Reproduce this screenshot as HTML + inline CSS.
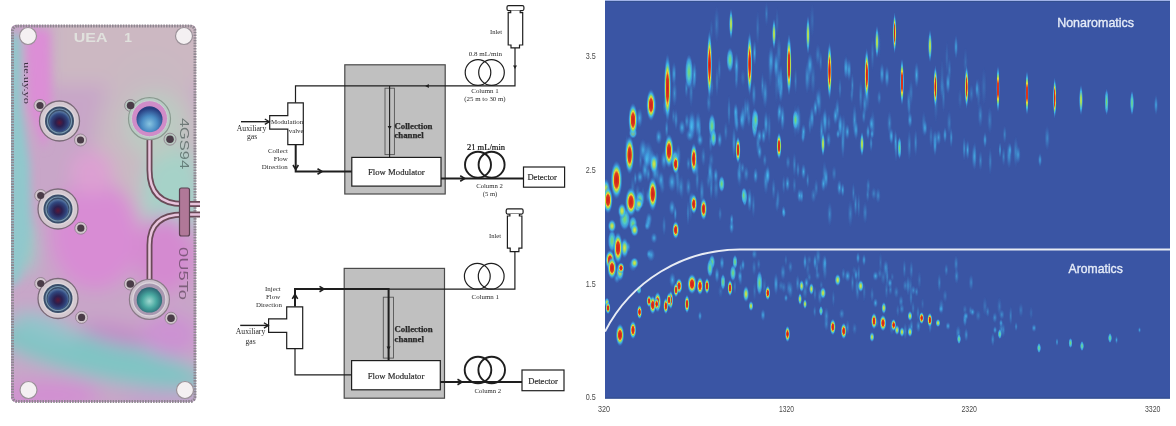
<!DOCTYPE html>
<html><head><meta charset="utf-8">
<style>
html,body{margin:0;padding:0;background:#fff;width:1176px;height:426px;overflow:hidden;}
body{position:relative;font-family:"Liberation Sans",sans-serif;}
svg{position:absolute;left:0;top:0;will-change:transform;}
</style></head><body>
<svg width="215" height="426" viewBox="0 0 215 426" style="position:absolute;left:0;top:0;filter:brightness(1.0)">
<defs>
<clipPath id="pc"><rect x="11" y="25" width="185" height="377" rx="5"/></clipPath>
<filter id="bl" x="-50%" y="-50%" width="200%" height="200%"><feGaussianBlur stdDeviation="9"/></filter>
<filter id="bl3" x="-50%" y="-50%" width="200%" height="200%"><feGaussianBlur stdDeviation="4"/></filter>
<filter id="bl2" x="-50%" y="-50%" width="200%" height="200%"><feGaussianBlur stdDeviation="1"/></filter>
<radialGradient id="bossg" cx="0.45" cy="0.45" r="0.6"><stop offset="0" stop-color="#e8e0e4"/><stop offset="0.7" stop-color="#d4cdd0"/><stop offset="1" stop-color="#a89ca8"/></radialGradient>
<radialGradient id="navy" cx="0.5" cy="0.55" r="0.55"><stop offset="0" stop-color="#5a1838"/><stop offset="0.35" stop-color="#2a2050"/><stop offset="0.75" stop-color="#304880"/><stop offset="1" stop-color="#6080a8"/></radialGradient>
<radialGradient id="blueg" cx="0.5" cy="0.68" r="0.6"><stop offset="0" stop-color="#88c4e0"/><stop offset="0.5" stop-color="#4a8cc4"/><stop offset="1" stop-color="#283c80"/></radialGradient>
<radialGradient id="tealg" cx="0.5" cy="0.55" r="0.55"><stop offset="0" stop-color="#a0d8d0"/><stop offset="0.5" stop-color="#48a8a0"/><stop offset="1" stop-color="#2a6070"/></radialGradient>
</defs>
<g clip-path="url(#pc)">
<rect x="0" y="0" width="215" height="426" fill="#c4a4c6"/>
<g filter="url(#bl)">
<rect x="0" y="0" width="215" height="426" fill="#c8a6c8"/>
<rect x="50" y="0" width="165" height="85" fill="#ccb8c2"/>
<ellipse cx="150" cy="150" rx="55" ry="95" fill="#c9b9c2"/>
<ellipse cx="172" cy="195" rx="30" ry="52" fill="#a6d2c8"/>
<ellipse cx="155" cy="125" rx="32" ry="34" fill="#bccac2"/>
<ellipse cx="95" cy="235" rx="45" ry="55" fill="#d88cd4"/>
<ellipse cx="92" cy="172" rx="22" ry="22" fill="#dca0d2"/>
<ellipse cx="24" cy="248" rx="10" ry="26" fill="#8cd0c4"/>
<ellipse cx="165" cy="255" rx="30" ry="40" fill="#d48ad0"/>
<ellipse cx="100" cy="358" rx="110" ry="21" fill="#80c4c4" transform="rotate(13 100 358)"/>
<ellipse cx="45" cy="328" rx="35" ry="12" fill="#90c4ca" transform="rotate(20 45 328)"/>
<ellipse cx="120" cy="335" rx="40" ry="9" fill="#c488c8" transform="rotate(12 120 335)"/>
<ellipse cx="170" cy="335" rx="28" ry="22" fill="#cc92d2"/>
<ellipse cx="50" cy="395" rx="50" ry="14" fill="#d28ed2"/>
<ellipse cx="160" cy="400" rx="40" ry="10" fill="#c4a0cc"/>
</g>
<g filter="url(#bl3)">
<polygon points="8,35 21,35 22,110 30,165 31,230 20,280 8,290" fill="#90c8cc"/>
<polygon points="26,30 50,30 52,110 44,150 28,105" fill="#dc8ed6"/>
</g>
</g>
<rect x="12.5" y="26" width="182.5" height="375.5" rx="5" fill="none" stroke="#8e8690" stroke-width="3" stroke-dasharray="1.6 1.1"/>
<!-- mounting holes -->
<g>
<circle cx="28" cy="36" r="8.5" fill="#f4f0f2" stroke="#9a9098" stroke-width="1.2"/>
<circle cx="184" cy="36" r="8.5" fill="#f4f0f2" stroke="#9a9098" stroke-width="1.2"/>
<circle cx="28.5" cy="390" r="8.5" fill="#f4f0f2" stroke="#9a9098" stroke-width="1.2"/>
<circle cx="185" cy="390" r="8.5" fill="#f4f0f2" stroke="#9a9098" stroke-width="1.2"/>
</g>
<!-- tubes -->
<g fill="none" stroke-linecap="butt">
<path d="M149.5,135 V170 Q149.5,204 183,204 H200" stroke="#6a4a58" stroke-width="6"/>
<path d="M149.5,135 V170 Q149.5,204 183,204 H200" stroke="#e8c4dc" stroke-width="2.5"/>
<path d="M200,214.5 H183 Q149.5,214.5 149.5,245 V282" stroke="#6a4a58" stroke-width="6"/>
<path d="M200,214.5 H183 Q149.5,214.5 149.5,245 V282" stroke="#e8c4dc" stroke-width="2.5"/>
</g>
<rect x="179.5" y="188" width="10" height="48" rx="2" fill="#b07898" stroke="#5a4050" stroke-width="1.2"/>
<circle cx="40" cy="105.5" r="6" fill="#d0c4cc" stroke="#8a7a88" stroke-width="0.8"/>
<circle cx="80.5" cy="140" r="6" fill="#d0c4cc" stroke="#8a7a88" stroke-width="0.8"/>
<circle cx="59.5" cy="121" r="20" fill="#d4c8d0" stroke="#7a6a78" stroke-width="1.3"/>
<circle cx="40" cy="105.5" r="3.6" fill="#4a3c48"/>
<circle cx="80.5" cy="140" r="3.6" fill="#4a3c48"/>
<circle cx="59.5" cy="121" r="16" fill="#dcd6da"/>
<circle cx="59.5" cy="121" r="14.5" fill="#3a4e6a"/>
<circle cx="59.5" cy="121" r="12" fill="none" stroke="#7898b0" stroke-width="1.2"/>
<circle cx="59.5" cy="121.5" r="10.5" fill="url(#navy)"/>
<circle cx="40.7" cy="195.5" r="6" fill="#d0c4cc" stroke="#8a7a88" stroke-width="0.8"/>
<circle cx="80.8" cy="228.2" r="6" fill="#d0c4cc" stroke="#8a7a88" stroke-width="0.8"/>
<circle cx="58" cy="209" r="20" fill="#d4c8d0" stroke="#7a6a78" stroke-width="1.3"/>
<circle cx="40.7" cy="195.5" r="3.6" fill="#4a3c48"/>
<circle cx="80.8" cy="228.2" r="3.6" fill="#4a3c48"/>
<circle cx="58" cy="209" r="16" fill="#dcd6da"/>
<circle cx="58" cy="209" r="14.5" fill="#3a4e6a"/>
<circle cx="58" cy="209" r="12" fill="none" stroke="#7898b0" stroke-width="1.2"/>
<circle cx="58" cy="209.5" r="10.5" fill="url(#navy)"/>
<circle cx="40.7" cy="283.5" r="6" fill="#d0c4cc" stroke="#8a7a88" stroke-width="0.8"/>
<circle cx="81.6" cy="317.4" r="6" fill="#d0c4cc" stroke="#8a7a88" stroke-width="0.8"/>
<circle cx="58" cy="298.5" r="20" fill="#d4c8d0" stroke="#7a6a78" stroke-width="1.3"/>
<circle cx="40.7" cy="283.5" r="3.6" fill="#4a3c48"/>
<circle cx="81.6" cy="317.4" r="3.6" fill="#4a3c48"/>
<circle cx="58" cy="298.5" r="16" fill="#dcd6da"/>
<circle cx="58" cy="298.5" r="14.5" fill="#3a4e6a"/>
<circle cx="58" cy="298.5" r="12" fill="none" stroke="#7898b0" stroke-width="1.2"/>
<circle cx="58" cy="299.0" r="10.5" fill="url(#navy)"/>
<circle cx="130.6" cy="105.5" r="6" fill="#b8c8c0" stroke="#8a7a88" stroke-width="0.8"/>
<circle cx="170" cy="139.2" r="6" fill="#b8c8c0" stroke="#8a7a88" stroke-width="0.8"/>
<circle cx="149.5" cy="118.7" r="21" fill="#b8ccc4" stroke="#8a9a90" stroke-width="1.2"/>
<circle cx="130.6" cy="105.5" r="3.8" fill="#4a3c48"/>
<circle cx="170" cy="139.2" r="3.8" fill="#4a3c48"/>
<circle cx="149.5" cy="118.7" r="18" fill="#d08cc8" stroke="#c8d0d0" stroke-width="1"/>
<circle cx="149.5" cy="119.2" r="13" fill="url(#blueg)"/>
<circle cx="130.3" cy="284" r="6" fill="#d0c4cc" stroke="#8a7a88" stroke-width="0.8"/>
<circle cx="171" cy="318.2" r="6" fill="#d0c4cc" stroke="#8a7a88" stroke-width="0.8"/>
<circle cx="149.4" cy="299.4" r="20" fill="#ccc0cc" stroke="#8a7a88" stroke-width="1.2"/>
<circle cx="130.3" cy="284" r="3.8" fill="#4a3c48"/>
<circle cx="171" cy="318.2" r="3.8" fill="#4a3c48"/>
<circle cx="149.4" cy="299.4" r="16.5" fill="#a898b0" stroke="#dcd4dc" stroke-width="1.2"/>
<circle cx="149.4" cy="299.9" r="12.7" fill="url(#tealg)"/>
<!-- engraved text -->
<text x="73.8" y="41.8" font-family="Liberation Sans" font-weight="bold" font-size="12.5" fill="#e6ece4" opacity="0.8" textLength="33.6" lengthAdjust="spacingAndGlyphs">UEA</text>
<text x="124.3" y="41.8" font-family="Liberation Sans" font-weight="bold" font-size="12.5" fill="#e6ece4" opacity="0.8" textLength="7.7" lengthAdjust="spacingAndGlyphs">1</text>
<text transform="translate(24,62) rotate(90)" font-family="Liberation Serif" font-size="9" fill="#3a3040" textLength="42" lengthAdjust="spacingAndGlyphs">ue.uy.yo</text>
<text transform="translate(180,118) rotate(90)" font-family="Liberation Sans" font-weight="normal" font-size="12" fill="#2e3e3c" opacity="0.55" textLength="51" lengthAdjust="spacingAndGlyphs">4GS94</text>
<text transform="translate(178.5,247) rotate(90)" font-family="Liberation Sans" font-weight="normal" font-size="12" fill="#3e2e3c" opacity="0.55" textLength="53" lengthAdjust="spacingAndGlyphs">0U5To</text>
</svg>

<svg id="chart" width="565" height="399" viewBox="0 -1 565 399" style="position:absolute;left:605px;top:0px">
<defs>
<filter id="sb" x="-5%" y="-5%" width="110%" height="110%"><feGaussianBlur stdDeviation="0.7"/></filter>
<radialGradient id="gr"><stop offset="0" stop-color="#c81e1e"/><stop offset="0.36" stop-color="#e03a1e"/><stop offset="0.5" stop-color="#e8d83c"/><stop offset="0.58" stop-color="#90dc60"/><stop offset="0.7" stop-color="#40c0f0" stop-opacity="0.9"/><stop offset="1" stop-color="#3a70c8" stop-opacity="0"/></radialGradient>
<radialGradient id="gy"><stop offset="0" stop-color="#e8e040"/><stop offset="0.3" stop-color="#a0dc60"/><stop offset="0.6" stop-color="#40c0f0" stop-opacity="0.85"/><stop offset="1" stop-color="#3a70c8" stop-opacity="0"/></radialGradient>
<radialGradient id="gg"><stop offset="0" stop-color="#80d860"/><stop offset="0.4" stop-color="#50c8c8"/><stop offset="0.7" stop-color="#40b0f0" stop-opacity="0.7"/><stop offset="1" stop-color="#3a70c8" stop-opacity="0"/></radialGradient>
<radialGradient id="gc"><stop offset="0" stop-color="#48c0f0" stop-opacity="0.85"/><stop offset="0.5" stop-color="#40a0e0" stop-opacity="0.45"/><stop offset="1" stop-color="#3a70c8" stop-opacity="0"/></radialGradient>
</defs>
<rect y="-1" width="565" height="398.6" fill="#3a55a4"/>
<g filter="url(#sb)"><ellipse cx="157.5" cy="84.8" rx="1.9" ry="14.2" fill="url(#gc)" opacity="0.66"/>
<ellipse cx="175.9" cy="75.1" rx="1.8" ry="12.9" fill="url(#gc)" opacity="0.62"/>
<ellipse cx="69.5" cy="92.4" rx="2.9" ry="14.0" fill="url(#gc)" opacity="0.68"/>
<ellipse cx="35.5" cy="159.1" rx="2.0" ry="10.8" fill="url(#gc)" opacity="0.50"/>
<ellipse cx="94.5" cy="130.1" rx="2.2" ry="14.1" fill="url(#gc)" opacity="0.67"/>
<ellipse cx="105.6" cy="140.4" rx="2.2" ry="12.1" fill="url(#gc)" opacity="0.68"/>
<ellipse cx="214.4" cy="100.5" rx="2.6" ry="15.6" fill="url(#gc)" opacity="0.55"/>
<ellipse cx="267.7" cy="124.1" rx="2.7" ry="16.4" fill="url(#gc)" opacity="0.57"/>
<ellipse cx="81.9" cy="120.3" rx="2.6" ry="8.4" fill="url(#gc)" opacity="0.76"/>
<ellipse cx="153.0" cy="142.0" rx="2.5" ry="13.7" fill="url(#gc)" opacity="0.63"/>
<ellipse cx="223.6" cy="138.7" rx="2.6" ry="8.6" fill="url(#gc)" opacity="0.71"/>
<ellipse cx="140.2" cy="109.5" rx="1.8" ry="14.4" fill="url(#gc)" opacity="0.63"/>
<ellipse cx="88.9" cy="81.3" rx="2.7" ry="8.6" fill="url(#gc)" opacity="0.50"/>
<ellipse cx="124.0" cy="110.0" rx="1.9" ry="16.4" fill="url(#gc)" opacity="0.63"/>
<ellipse cx="375.5" cy="159.7" rx="2.3" ry="10.7" fill="url(#gc)" opacity="0.59"/>
<ellipse cx="81.4" cy="87.5" rx="2.1" ry="10.2" fill="url(#gc)" opacity="0.64"/>
<ellipse cx="274.2" cy="96.6" rx="2.3" ry="8.0" fill="url(#gc)" opacity="0.60"/>
<ellipse cx="318.8" cy="123.1" rx="2.6" ry="13.9" fill="url(#gc)" opacity="0.47"/>
<ellipse cx="410.8" cy="150.9" rx="2.8" ry="16.4" fill="url(#gc)" opacity="0.61"/>
<ellipse cx="190.6" cy="79.9" rx="1.9" ry="14.1" fill="url(#gc)" opacity="0.48"/>
<ellipse cx="106.9" cy="86.0" rx="1.9" ry="11.3" fill="url(#gc)" opacity="0.45"/>
<ellipse cx="399.7" cy="133.5" rx="2.1" ry="9.4" fill="url(#gc)" opacity="0.59"/>
<ellipse cx="175.2" cy="81.9" rx="3.0" ry="16.1" fill="url(#gc)" opacity="0.64"/>
<ellipse cx="60.0" cy="105.0" rx="2.8" ry="10.5" fill="url(#gc)" opacity="0.51"/>
<ellipse cx="247.4" cy="84.4" rx="1.8" ry="13.2" fill="url(#gc)" opacity="0.66"/>
<ellipse cx="176.3" cy="86.5" rx="2.4" ry="15.4" fill="url(#gc)" opacity="0.76"/>
<ellipse cx="160.1" cy="92.4" rx="3.0" ry="15.8" fill="url(#gc)" opacity="0.79"/>
<ellipse cx="369.7" cy="154.9" rx="2.1" ry="15.1" fill="url(#gc)" opacity="0.66"/>
<ellipse cx="129.0" cy="141.7" rx="2.3" ry="17.2" fill="url(#gc)" opacity="0.82"/>
<ellipse cx="175.4" cy="92.1" rx="2.0" ry="10.2" fill="url(#gc)" opacity="0.53"/>
<ellipse cx="384.8" cy="119.3" rx="2.8" ry="14.3" fill="url(#gc)" opacity="0.48"/>
<ellipse cx="359.2" cy="147.8" rx="2.0" ry="12.6" fill="url(#gc)" opacity="0.77"/>
<ellipse cx="413.1" cy="153.7" rx="2.8" ry="9.4" fill="url(#gc)" opacity="0.84"/>
<ellipse cx="304.2" cy="105.8" rx="2.0" ry="13.3" fill="url(#gc)" opacity="0.46"/>
<ellipse cx="442.2" cy="137.2" rx="2.9" ry="13.1" fill="url(#gc)" opacity="0.62"/>
<ellipse cx="398.6" cy="155.7" rx="2.1" ry="10.0" fill="url(#gc)" opacity="0.57"/>
<ellipse cx="120.8" cy="130.6" rx="2.3" ry="10.5" fill="url(#gc)" opacity="0.50"/>
<ellipse cx="216.6" cy="130.3" rx="2.3" ry="16.7" fill="url(#gc)" opacity="0.82"/>
<ellipse cx="235.7" cy="124.8" rx="1.8" ry="13.0" fill="url(#gc)" opacity="0.63"/>
<ellipse cx="259.8" cy="103.2" rx="2.5" ry="13.0" fill="url(#gc)" opacity="0.76"/>
<ellipse cx="61.7" cy="127.8" rx="2.1" ry="10.4" fill="url(#gc)" opacity="0.76"/>
<ellipse cx="238.4" cy="128.0" rx="2.9" ry="15.3" fill="url(#gc)" opacity="0.63"/>
<ellipse cx="284.5" cy="122.1" rx="2.6" ry="12.9" fill="url(#gc)" opacity="0.63"/>
<ellipse cx="249.6" cy="119.2" rx="2.6" ry="17.0" fill="url(#gc)" opacity="0.80"/>
<ellipse cx="68.5" cy="115.4" rx="2.1" ry="8.7" fill="url(#gc)" opacity="0.48"/>
<ellipse cx="330.1" cy="138.3" rx="2.9" ry="9.4" fill="url(#gc)" opacity="0.84"/>
<ellipse cx="190.2" cy="120.2" rx="2.8" ry="17.5" fill="url(#gc)" opacity="0.51"/>
<ellipse cx="204.9" cy="123.1" rx="2.0" ry="11.3" fill="url(#gc)" opacity="0.58"/>
<ellipse cx="258.8" cy="115.2" rx="2.2" ry="8.2" fill="url(#gc)" opacity="0.70"/>
<ellipse cx="131.8" cy="73.2" rx="2.1" ry="15.5" fill="url(#gc)" opacity="0.50"/>
<ellipse cx="266.1" cy="142.5" rx="1.9" ry="8.9" fill="url(#gc)" opacity="0.73"/>
<ellipse cx="202.1" cy="76.6" rx="2.6" ry="17.0" fill="url(#gc)" opacity="0.77"/>
<ellipse cx="51.8" cy="158.9" rx="2.8" ry="8.6" fill="url(#gc)" opacity="0.63"/>
<ellipse cx="164.2" cy="127.1" rx="2.1" ry="16.9" fill="url(#gc)" opacity="0.50"/>
<ellipse cx="246.8" cy="94.0" rx="2.0" ry="9.1" fill="url(#gc)" opacity="0.47"/>
<ellipse cx="103.8" cy="101.8" rx="2.7" ry="10.9" fill="url(#gc)" opacity="0.57"/>
<ellipse cx="235.0" cy="87.7" rx="1.8" ry="11.3" fill="url(#gc)" opacity="0.55"/>
<ellipse cx="21.8" cy="146.0" rx="2.0" ry="13.3" fill="url(#gc)" opacity="0.64"/>
<ellipse cx="375.3" cy="114.4" rx="2.8" ry="12.8" fill="url(#gc)" opacity="0.61"/>
<ellipse cx="237.9" cy="141.2" rx="2.2" ry="17.4" fill="url(#gc)" opacity="0.78"/>
<ellipse cx="326.0" cy="135.8" rx="2.2" ry="11.9" fill="url(#gc)" opacity="0.47"/>
<ellipse cx="385.2" cy="160.4" rx="2.1" ry="14.4" fill="url(#gc)" opacity="0.55"/>
<ellipse cx="143.9" cy="117.2" rx="2.3" ry="9.5" fill="url(#gc)" opacity="0.56"/>
<ellipse cx="255.7" cy="94.7" rx="2.2" ry="17.3" fill="url(#gc)" opacity="0.59"/>
<ellipse cx="223.8" cy="121.8" rx="2.4" ry="9.9" fill="url(#gc)" opacity="0.45"/>
<ellipse cx="131.2" cy="78.4" rx="1.9" ry="11.8" fill="url(#gc)" opacity="0.46"/>
<ellipse cx="148.9" cy="93.4" rx="2.4" ry="13.6" fill="url(#gc)" opacity="0.75"/>
<ellipse cx="304.3" cy="144.2" rx="2.3" ry="16.4" fill="url(#gc)" opacity="0.58"/>
<ellipse cx="333.6" cy="136.5" rx="2.8" ry="8.4" fill="url(#gc)" opacity="0.81"/>
<ellipse cx="291.0" cy="146.1" rx="2.0" ry="15.8" fill="url(#gc)" opacity="0.66"/>
<ellipse cx="369.1" cy="155.8" rx="2.9" ry="13.6" fill="url(#gc)" opacity="0.72"/>
<ellipse cx="173.7" cy="80.0" rx="2.5" ry="16.0" fill="url(#gc)" opacity="0.70"/>
<ellipse cx="290.5" cy="140.5" rx="1.8" ry="12.7" fill="url(#gc)" opacity="0.77"/>
<ellipse cx="344.2" cy="121.8" rx="2.6" ry="13.1" fill="url(#gc)" opacity="0.48"/>
<ellipse cx="232.3" cy="109.2" rx="2.6" ry="12.6" fill="url(#gc)" opacity="0.76"/>
<ellipse cx="286.5" cy="136.5" rx="2.0" ry="8.7" fill="url(#gc)" opacity="0.55"/>
<ellipse cx="310.7" cy="141.7" rx="2.1" ry="14.5" fill="url(#gc)" opacity="0.66"/>
<ellipse cx="219.5" cy="118.0" rx="2.9" ry="9.1" fill="url(#gc)" opacity="0.53"/>
<ellipse cx="212.8" cy="97.2" rx="2.9" ry="10.0" fill="url(#gc)" opacity="0.53"/>
<ellipse cx="73.3" cy="155.1" rx="2.9" ry="12.9" fill="url(#gc)" opacity="0.73"/>
<ellipse cx="213.3" cy="100.7" rx="2.2" ry="9.4" fill="url(#gc)" opacity="0.58"/>
<ellipse cx="142.5" cy="108.1" rx="3.0" ry="11.8" fill="url(#gc)" opacity="0.69"/>
<ellipse cx="173.7" cy="113.9" rx="1.9" ry="10.6" fill="url(#gc)" opacity="0.49"/>
<ellipse cx="131.9" cy="122.7" rx="2.2" ry="9.8" fill="url(#gc)" opacity="0.83"/>
<ellipse cx="404.1" cy="154.3" rx="2.9" ry="14.1" fill="url(#gc)" opacity="0.83"/>
<ellipse cx="256.7" cy="144.6" rx="2.7" ry="8.5" fill="url(#gc)" opacity="0.63"/>
<ellipse cx="346.2" cy="136.7" rx="1.9" ry="10.7" fill="url(#gc)" opacity="0.82"/>
<ellipse cx="71.0" cy="118.6" rx="2.2" ry="11.3" fill="url(#gc)" opacity="0.75"/>
<ellipse cx="303.6" cy="100.6" rx="2.3" ry="13.4" fill="url(#gc)" opacity="0.52"/>
<ellipse cx="86.1" cy="90.8" rx="2.4" ry="16.7" fill="url(#gc)" opacity="0.54"/>
<ellipse cx="134.7" cy="165.2" rx="1.9" ry="7.9" fill="url(#gc)" opacity="0.52"/>
<ellipse cx="43.2" cy="173.1" rx="2.5" ry="8.5" fill="url(#gc)" opacity="0.71"/>
<ellipse cx="211.2" cy="187.0" rx="2.4" ry="9.7" fill="url(#gc)" opacity="0.53"/>
<ellipse cx="106.2" cy="159.0" rx="3.0" ry="8.6" fill="url(#gc)" opacity="0.44"/>
<ellipse cx="148.4" cy="204.4" rx="2.1" ry="13.3" fill="url(#gc)" opacity="0.49"/>
<ellipse cx="83.4" cy="186.0" rx="2.9" ry="10.0" fill="url(#gc)" opacity="0.70"/>
<ellipse cx="248.4" cy="191.9" rx="1.8" ry="11.1" fill="url(#gc)" opacity="0.54"/>
<ellipse cx="83.4" cy="162.7" rx="2.4" ry="7.6" fill="url(#gc)" opacity="0.64"/>
<ellipse cx="260.1" cy="211.7" rx="2.7" ry="11.6" fill="url(#gc)" opacity="0.56"/>
<ellipse cx="219.5" cy="172.6" rx="2.6" ry="13.8" fill="url(#gc)" opacity="0.51"/>
<ellipse cx="52.6" cy="174.1" rx="2.6" ry="11.5" fill="url(#gc)" opacity="0.44"/>
<ellipse cx="37.9" cy="196.0" rx="2.3" ry="11.1" fill="url(#gc)" opacity="0.48"/>
<ellipse cx="96.9" cy="190.9" rx="2.6" ry="14.1" fill="url(#gc)" opacity="0.71"/>
<ellipse cx="141.2" cy="172.8" rx="3.0" ry="8.4" fill="url(#gc)" opacity="0.65"/>
<ellipse cx="98.4" cy="155.7" rx="2.6" ry="10.4" fill="url(#gc)" opacity="0.55"/>
<ellipse cx="85.6" cy="207.4" rx="2.1" ry="13.8" fill="url(#gc)" opacity="0.41"/>
<ellipse cx="106.2" cy="187.6" rx="2.0" ry="11.9" fill="url(#gc)" opacity="0.68"/>
<ellipse cx="208.5" cy="194.4" rx="3.0" ry="8.0" fill="url(#gc)" opacity="0.51"/>
<ellipse cx="229.1" cy="172.5" rx="2.7" ry="8.2" fill="url(#gc)" opacity="0.50"/>
<ellipse cx="262.7" cy="193.7" rx="2.1" ry="7.9" fill="url(#gc)" opacity="0.55"/>
<ellipse cx="57.3" cy="185.5" rx="3.0" ry="8.1" fill="url(#gc)" opacity="0.45"/>
<ellipse cx="245.3" cy="212.6" rx="2.9" ry="14.4" fill="url(#gc)" opacity="0.52"/>
<ellipse cx="189.4" cy="184.3" rx="2.2" ry="9.4" fill="url(#gc)" opacity="0.46"/>
<ellipse cx="72.9" cy="182.5" rx="2.8" ry="13.0" fill="url(#gc)" opacity="0.55"/>
<ellipse cx="32.6" cy="191.9" rx="2.9" ry="9.4" fill="url(#gc)" opacity="0.47"/>
<ellipse cx="27.7" cy="186.9" rx="2.7" ry="12.9" fill="url(#gc)" opacity="0.41"/>
<ellipse cx="106.5" cy="175.8" rx="2.5" ry="14.1" fill="url(#gc)" opacity="0.49"/>
<ellipse cx="202.7" cy="179.3" rx="1.8" ry="8.6" fill="url(#gc)" opacity="0.66"/>
<ellipse cx="253.7" cy="204.7" rx="1.8" ry="13.9" fill="url(#gc)" opacity="0.48"/>
<ellipse cx="263.2" cy="184.9" rx="2.3" ry="8.4" fill="url(#gc)" opacity="0.57"/>
<ellipse cx="224.7" cy="213.1" rx="2.7" ry="13.0" fill="url(#gc)" opacity="0.61"/>
<ellipse cx="103.6" cy="179.6" rx="2.7" ry="9.3" fill="url(#gc)" opacity="0.43"/>
<ellipse cx="70.3" cy="214.2" rx="1.9" ry="8.4" fill="url(#gc)" opacity="0.41"/>
<ellipse cx="160.9" cy="180.1" rx="2.9" ry="14.2" fill="url(#gc)" opacity="0.75"/>
<ellipse cx="87.5" cy="160.7" rx="2.4" ry="7.2" fill="url(#gc)" opacity="0.65"/>
<ellipse cx="134.0" cy="172.7" rx="2.5" ry="9.7" fill="url(#gc)" opacity="0.64"/>
<ellipse cx="189.4" cy="163.7" rx="2.2" ry="13.1" fill="url(#gc)" opacity="0.60"/>
<ellipse cx="115.1" cy="213.0" rx="2.1" ry="8.0" fill="url(#gc)" opacity="0.49"/>
<ellipse cx="59.1" cy="224.7" rx="2.2" ry="11.0" fill="url(#gc)" opacity="0.54"/>
<ellipse cx="273.1" cy="194.6" rx="2.8" ry="8.3" fill="url(#gc)" opacity="0.63"/>
<ellipse cx="30.3" cy="177.5" rx="2.0" ry="7.4" fill="url(#gc)" opacity="0.74"/>
<ellipse cx="134.5" cy="174.8" rx="2.9" ry="12.6" fill="url(#gc)" opacity="0.44"/>
<ellipse cx="172.0" cy="203.6" rx="2.2" ry="8.1" fill="url(#gc)" opacity="0.45"/>
<ellipse cx="72.0" cy="174.4" rx="2.6" ry="11.2" fill="url(#gc)" opacity="0.47"/>
<ellipse cx="193.0" cy="168.8" rx="2.0" ry="8.9" fill="url(#gc)" opacity="0.68"/>
<ellipse cx="159.8" cy="159.1" rx="2.3" ry="7.2" fill="url(#gc)" opacity="0.59"/>
<ellipse cx="183.0" cy="161.3" rx="2.6" ry="7.7" fill="url(#gc)" opacity="0.54"/>
<ellipse cx="92.2" cy="178.6" rx="2.2" ry="14.0" fill="url(#gc)" opacity="0.60"/>
<ellipse cx="111.1" cy="187.3" rx="3.0" ry="13.3" fill="url(#gc)" opacity="0.53"/>
<ellipse cx="70.3" cy="212.2" rx="1.8" ry="8.0" fill="url(#gc)" opacity="0.72"/>
<ellipse cx="137.5" cy="167.0" rx="2.5" ry="6.5" fill="url(#gc)" opacity="0.62"/>
<ellipse cx="178.7" cy="183.7" rx="2.0" ry="10.4" fill="url(#gc)" opacity="0.50"/>
<ellipse cx="47.7" cy="193.2" rx="3.0" ry="12.8" fill="url(#gc)" opacity="0.47"/>
<ellipse cx="268.8" cy="192.6" rx="2.9" ry="6.8" fill="url(#gc)" opacity="0.54"/>
<ellipse cx="250.6" cy="203.6" rx="2.0" ry="13.0" fill="url(#gc)" opacity="0.68"/>
<ellipse cx="76.6" cy="186.4" rx="2.8" ry="13.2" fill="url(#gc)" opacity="0.46"/>
<ellipse cx="75.6" cy="186.0" rx="2.3" ry="10.5" fill="url(#gc)" opacity="0.44"/>
<ellipse cx="83.0" cy="212.0" rx="1.8" ry="13.6" fill="url(#gc)" opacity="0.60"/>
<ellipse cx="172.9" cy="198.0" rx="2.2" ry="11.4" fill="url(#gc)" opacity="0.55"/>
<ellipse cx="168.6" cy="188.1" rx="2.3" ry="11.7" fill="url(#gc)" opacity="0.55"/>
<ellipse cx="281.0" cy="269.3" rx="2.7" ry="9.7" fill="url(#gc)" opacity="0.44"/>
<ellipse cx="163.2" cy="287.9" rx="2.0" ry="5.5" fill="url(#gc)" opacity="0.43"/>
<ellipse cx="129.9" cy="285.5" rx="1.8" ry="8.1" fill="url(#gc)" opacity="0.49"/>
<ellipse cx="115.6" cy="290.3" rx="2.9" ry="7.2" fill="url(#gc)" opacity="0.34"/>
<ellipse cx="373.2" cy="314.6" rx="3.0" ry="6.0" fill="url(#gc)" opacity="0.45"/>
<ellipse cx="149.6" cy="290.2" rx="2.0" ry="10.7" fill="url(#gc)" opacity="0.38"/>
<ellipse cx="287.3" cy="275.9" rx="2.0" ry="5.0" fill="url(#gc)" opacity="0.35"/>
<ellipse cx="306.0" cy="296.2" rx="1.9" ry="10.4" fill="url(#gc)" opacity="0.60"/>
<ellipse cx="334.3" cy="281.8" rx="2.1" ry="9.9" fill="url(#gc)" opacity="0.60"/>
<ellipse cx="314.4" cy="279.1" rx="2.3" ry="9.7" fill="url(#gc)" opacity="0.35"/>
<ellipse cx="317.6" cy="302.8" rx="1.8" ry="6.8" fill="url(#gc)" opacity="0.31"/>
<ellipse cx="259.2" cy="291.0" rx="2.0" ry="10.5" fill="url(#gc)" opacity="0.37"/>
<ellipse cx="135.4" cy="278.9" rx="2.5" ry="6.2" fill="url(#gc)" opacity="0.48"/>
<ellipse cx="275.5" cy="261.5" rx="2.1" ry="10.8" fill="url(#gc)" opacity="0.34"/>
<ellipse cx="426.1" cy="312.0" rx="2.1" ry="7.4" fill="url(#gc)" opacity="0.30"/>
<ellipse cx="340.1" cy="294.9" rx="2.6" ry="7.0" fill="url(#gc)" opacity="0.43"/>
<ellipse cx="249.3" cy="269.5" rx="2.7" ry="5.2" fill="url(#gc)" opacity="0.30"/>
<ellipse cx="149.1" cy="266.6" rx="2.4" ry="8.7" fill="url(#gc)" opacity="0.49"/>
<ellipse cx="212.6" cy="274.4" rx="2.9" ry="5.1" fill="url(#gc)" opacity="0.53"/>
<ellipse cx="415.9" cy="309.1" rx="2.7" ry="7.8" fill="url(#gc)" opacity="0.44"/>
<ellipse cx="180.9" cy="259.2" rx="1.8" ry="6.3" fill="url(#gc)" opacity="0.40"/>
<ellipse cx="379.9" cy="305.2" rx="2.7" ry="10.2" fill="url(#gc)" opacity="0.38"/>
<ellipse cx="305.4" cy="285.0" rx="2.4" ry="9.8" fill="url(#gc)" opacity="0.38"/>
<ellipse cx="219.9" cy="269.7" rx="2.6" ry="10.6" fill="url(#gc)" opacity="0.51"/>
<ellipse cx="360.1" cy="317.9" rx="2.7" ry="7.6" fill="url(#gc)" opacity="0.47"/>
<ellipse cx="211.9" cy="267.5" rx="1.9" ry="8.8" fill="url(#gc)" opacity="0.57"/>
<ellipse cx="149.9" cy="253.1" rx="2.9" ry="5.5" fill="url(#gc)" opacity="0.40"/>
<ellipse cx="148.9" cy="253.2" rx="2.6" ry="5.1" fill="url(#gc)" opacity="0.49"/>
<ellipse cx="359.9" cy="308.5" rx="2.5" ry="5.2" fill="url(#gc)" opacity="0.41"/>
<ellipse cx="405.7" cy="314.9" rx="1.9" ry="10.5" fill="url(#gc)" opacity="0.56"/>
<ellipse cx="135.7" cy="267.0" rx="1.8" ry="5.5" fill="url(#gc)" opacity="0.55"/>
<ellipse cx="204.2" cy="258.8" rx="2.7" ry="5.4" fill="url(#gc)" opacity="0.36"/>
<ellipse cx="216.3" cy="284.1" rx="2.1" ry="4.9" fill="url(#gc)" opacity="0.38"/>
<ellipse cx="251.9" cy="285.0" rx="2.2" ry="9.7" fill="url(#gc)" opacity="0.51"/>
<ellipse cx="299.4" cy="267.9" rx="1.9" ry="10.3" fill="url(#gc)" opacity="0.55"/>
<ellipse cx="281.5" cy="289.3" rx="2.0" ry="9.9" fill="url(#gc)" opacity="0.45"/>
<ellipse cx="202.8" cy="267.7" rx="2.4" ry="9.3" fill="url(#gc)" opacity="0.33"/>
<ellipse cx="394.4" cy="305.4" rx="2.6" ry="9.8" fill="url(#gc)" opacity="0.41"/>
<ellipse cx="247.5" cy="281.8" rx="1.9" ry="10.5" fill="url(#gc)" opacity="0.57"/>
<ellipse cx="104.6" cy="267.1" rx="2.9" ry="6.5" fill="url(#gc)" opacity="0.45"/>
<ellipse cx="183.8" cy="287.0" rx="2.7" ry="8.2" fill="url(#gc)" opacity="0.53"/>
<ellipse cx="219.1" cy="263.1" rx="2.6" ry="10.2" fill="url(#gc)" opacity="0.52"/>
<ellipse cx="159.4" cy="285.2" rx="2.5" ry="9.7" fill="url(#gc)" opacity="0.34"/>
<ellipse cx="185.4" cy="265.9" rx="2.6" ry="6.7" fill="url(#gc)" opacity="0.55"/>
<ellipse cx="153.7" cy="263.2" rx="2.2" ry="6.4" fill="url(#gc)" opacity="0.46"/>
<ellipse cx="236.8" cy="312.8" rx="3.0" ry="5.7" fill="url(#gc)" opacity="0.66"/>
<ellipse cx="221.4" cy="315.1" rx="2.8" ry="9.5" fill="url(#gc)" opacity="0.66"/>
<ellipse cx="308.1" cy="307.2" rx="1.9" ry="7.9" fill="url(#gc)" opacity="0.47"/>
<ellipse cx="296.0" cy="300.4" rx="2.7" ry="6.7" fill="url(#gc)" opacity="0.64"/>
<ellipse cx="325.1" cy="325.6" rx="2.0" ry="7.0" fill="url(#gc)" opacity="0.61"/>
<ellipse cx="300.2" cy="330.1" rx="2.3" ry="9.2" fill="url(#gc)" opacity="0.60"/>
<ellipse cx="389.8" cy="316.7" rx="2.7" ry="5.9" fill="url(#gc)" opacity="0.71"/>
<ellipse cx="396.3" cy="328.4" rx="2.6" ry="8.9" fill="url(#gc)" opacity="0.62"/>
<ellipse cx="313.0" cy="312.1" rx="1.9" ry="7.8" fill="url(#gc)" opacity="0.55"/>
<ellipse cx="398.4" cy="329.0" rx="2.1" ry="7.8" fill="url(#gc)" opacity="0.55"/>
<ellipse cx="313.4" cy="325.1" rx="2.6" ry="6.8" fill="url(#gc)" opacity="0.73"/>
<ellipse cx="242.6" cy="326.5" rx="2.3" ry="8.5" fill="url(#gc)" opacity="0.57"/>
<ellipse cx="336.3" cy="305.8" rx="2.9" ry="8.6" fill="url(#gc)" opacity="0.58"/>
<ellipse cx="221.3" cy="323.1" rx="2.7" ry="7.4" fill="url(#gc)" opacity="0.58"/>
<ellipse cx="361.2" cy="333.8" rx="2.3" ry="7.3" fill="url(#gc)" opacity="0.73"/>
<ellipse cx="249.6" cy="327.7" rx="2.7" ry="6.7" fill="url(#gc)" opacity="0.44"/>
<ellipse cx="209.7" cy="310.5" rx="1.8" ry="6.7" fill="url(#gc)" opacity="0.55"/>
<ellipse cx="304.3" cy="328.3" rx="2.1" ry="6.5" fill="url(#gc)" opacity="0.48"/>
<ellipse cx="387.8" cy="338.5" rx="2.1" ry="7.3" fill="url(#gc)" opacity="0.68"/>
<ellipse cx="296.9" cy="307.9" rx="2.7" ry="5.4" fill="url(#gc)" opacity="0.68"/>
<ellipse cx="359.9" cy="318.7" rx="2.1" ry="7.5" fill="url(#gc)" opacity="0.74"/>
<ellipse cx="286.8" cy="325.8" rx="2.8" ry="8.7" fill="url(#gc)" opacity="0.56"/>
<ellipse cx="271.5" cy="322.0" rx="2.8" ry="5.4" fill="url(#gc)" opacity="0.52"/>
<ellipse cx="292.8" cy="309.6" rx="2.0" ry="6.8" fill="url(#gc)" opacity="0.40"/>
<ellipse cx="382.7" cy="310.8" rx="2.2" ry="6.0" fill="url(#gc)" opacity="0.57"/>
<ellipse cx="306.4" cy="325.8" rx="2.2" ry="8.0" fill="url(#gc)" opacity="0.73"/>
<ellipse cx="411.1" cy="325.6" rx="1.8" ry="4.9" fill="url(#gc)" opacity="0.73"/>
<ellipse cx="365.5" cy="309.5" rx="2.0" ry="5.3" fill="url(#gc)" opacity="0.48"/>
<ellipse cx="396.8" cy="313.6" rx="2.9" ry="5.5" fill="url(#gc)" opacity="0.68"/>
<ellipse cx="353.2" cy="331.8" rx="2.9" ry="8.0" fill="url(#gc)" opacity="0.68"/>
<ellipse cx="351.1" cy="262.9" rx="2.4" ry="9.2" fill="url(#gc)" opacity="0.62"/>
<ellipse cx="267.1" cy="293.7" rx="2.1" ry="8.4" fill="url(#gc)" opacity="0.47"/>
<ellipse cx="204.3" cy="276.2" rx="2.4" ry="5.2" fill="url(#gc)" opacity="0.44"/>
<ellipse cx="278.2" cy="276.4" rx="2.8" ry="8.3" fill="url(#gc)" opacity="0.40"/>
<ellipse cx="351.6" cy="275.1" rx="2.6" ry="8.4" fill="url(#gc)" opacity="0.65"/>
<ellipse cx="253.7" cy="272.8" rx="1.9" ry="10.9" fill="url(#gc)" opacity="0.59"/>
<ellipse cx="303.0" cy="284.7" rx="2.2" ry="10.8" fill="url(#gc)" opacity="0.69"/>
<ellipse cx="282.2" cy="275.8" rx="1.8" ry="10.5" fill="url(#gc)" opacity="0.62"/>
<ellipse cx="306.3" cy="269.2" rx="2.2" ry="10.3" fill="url(#gc)" opacity="0.54"/>
<ellipse cx="285.4" cy="288.7" rx="2.3" ry="6.1" fill="url(#gc)" opacity="0.53"/>
<ellipse cx="291.3" cy="291.2" rx="2.8" ry="6.7" fill="url(#gc)" opacity="0.52"/>
<ellipse cx="280.8" cy="266.2" rx="3.0" ry="8.0" fill="url(#gc)" opacity="0.60"/>
<ellipse cx="341.3" cy="268.9" rx="2.2" ry="6.8" fill="url(#gc)" opacity="0.58"/>
<ellipse cx="308.3" cy="289.3" rx="2.7" ry="5.1" fill="url(#gc)" opacity="0.67"/>
<ellipse cx="214.9" cy="295.5" rx="2.6" ry="8.7" fill="url(#gc)" opacity="0.64"/>
<ellipse cx="366.1" cy="281.5" rx="2.6" ry="8.7" fill="url(#gc)" opacity="0.61"/>
<ellipse cx="300.2" cy="284.6" rx="2.6" ry="6.2" fill="url(#gc)" opacity="0.54"/>
<ellipse cx="213.1" cy="255.7" rx="2.9" ry="9.8" fill="url(#gc)" opacity="0.60"/>
<ellipse cx="252.5" cy="291.0" rx="2.5" ry="9.8" fill="url(#gc)" opacity="0.48"/>
<ellipse cx="238.4" cy="273.0" rx="2.3" ry="6.8" fill="url(#gc)" opacity="0.59"/>
<ellipse cx="200.0" cy="290.5" rx="2.9" ry="8.5" fill="url(#gc)" opacity="0.53"/>
<ellipse cx="178.0" cy="271.4" rx="2.9" ry="8.6" fill="url(#gc)" opacity="0.69"/>
<ellipse cx="274.8" cy="272.6" rx="2.6" ry="5.5" fill="url(#gc)" opacity="0.46"/>
<ellipse cx="176.0" cy="284.8" rx="3.0" ry="5.6" fill="url(#gc)" opacity="0.43"/>
<ellipse cx="178.7" cy="286.4" rx="2.7" ry="6.4" fill="url(#gc)" opacity="0.46"/>
<ellipse cx="185.5" cy="288.8" rx="2.8" ry="9.4" fill="url(#gc)" opacity="0.62"/>
<ellipse cx="192.7" cy="282.3" rx="2.4" ry="9.3" fill="url(#gc)" opacity="0.68"/>
<ellipse cx="228.4" cy="297.4" rx="1.8" ry="9.4" fill="url(#gc)" opacity="0.40"/>
<ellipse cx="311.6" cy="290.8" rx="2.2" ry="5.3" fill="url(#gc)" opacity="0.62"/>
<ellipse cx="209.9" cy="292.7" rx="1.9" ry="7.9" fill="url(#gc)" opacity="0.51"/>
<ellipse cx="267.5" cy="52.9" rx="2.0" ry="18.3" fill="url(#gc)" opacity="0.45"/>
<ellipse cx="204.0" cy="73.5" rx="2.3" ry="17.7" fill="url(#gc)" opacity="0.35"/>
<ellipse cx="330.9" cy="103.5" rx="2.5" ry="19.6" fill="url(#gc)" opacity="0.32"/>
<ellipse cx="306.0" cy="91.7" rx="2.5" ry="13.9" fill="url(#gc)" opacity="0.49"/>
<ellipse cx="344.4" cy="69.1" rx="2.3" ry="13.6" fill="url(#gc)" opacity="0.47"/>
<ellipse cx="208.0" cy="77.5" rx="2.9" ry="17.3" fill="url(#gc)" opacity="0.45"/>
<ellipse cx="173.9" cy="51.3" rx="2.8" ry="17.1" fill="url(#gc)" opacity="0.47"/>
<ellipse cx="338.5" cy="95.7" rx="2.1" ry="16.9" fill="url(#gc)" opacity="0.46"/>
<ellipse cx="337.1" cy="77.5" rx="2.2" ry="21.3" fill="url(#gc)" opacity="0.27"/>
<ellipse cx="261.1" cy="88.7" rx="2.7" ry="12.2" fill="url(#gc)" opacity="0.48"/>
<ellipse cx="165.2" cy="69.7" rx="2.4" ry="18.3" fill="url(#gc)" opacity="0.30"/>
<ellipse cx="171.4" cy="84.1" rx="2.4" ry="19.7" fill="url(#gc)" opacity="0.27"/>
<ellipse cx="337.0" cy="86.2" rx="2.5" ry="12.6" fill="url(#gc)" opacity="0.47"/>
<ellipse cx="360.5" cy="61.2" rx="2.5" ry="15.7" fill="url(#gc)" opacity="0.30"/>
<ellipse cx="152.7" cy="27.1" rx="2.2" ry="18.6" fill="url(#gc)" opacity="0.39"/>
<ellipse cx="215.7" cy="60.7" rx="1.9" ry="11.5" fill="url(#gc)" opacity="0.50"/>
<ellipse cx="207.2" cy="19.6" rx="2.7" ry="17.7" fill="url(#gc)" opacity="0.29"/>
<ellipse cx="274.2" cy="43.5" rx="1.8" ry="16.2" fill="url(#gc)" opacity="0.26"/>
<ellipse cx="240.9" cy="65.7" rx="2.7" ry="12.9" fill="url(#gc)" opacity="0.36"/>
<ellipse cx="378.9" cy="85.7" rx="3.0" ry="20.1" fill="url(#gc)" opacity="0.31"/>
<ellipse cx="106.4" cy="29.1" rx="1.9" ry="11.9" fill="url(#gc)" opacity="0.26"/>
<ellipse cx="262.2" cy="96.1" rx="2.9" ry="15.5" fill="url(#gc)" opacity="0.48"/>
<ellipse cx="114.3" cy="68.8" rx="1.9" ry="14.7" fill="url(#gc)" opacity="0.49"/>
<ellipse cx="172.2" cy="65.4" rx="2.9" ry="17.8" fill="url(#gc)" opacity="0.42"/>
<ellipse cx="212.9" cy="53.8" rx="3.0" ry="11.6" fill="url(#gc)" opacity="0.50"/>
<ellipse cx="161.5" cy="12.9" rx="2.2" ry="12.9" fill="url(#gc)" opacity="0.48"/>
<ellipse cx="366.4" cy="92.7" rx="2.7" ry="10.2" fill="url(#gc)" opacity="0.43"/>
<ellipse cx="111.7" cy="23.5" rx="2.9" ry="19.3" fill="url(#gc)" opacity="0.42"/>
<ellipse cx="184.6" cy="68.1" rx="1.9" ry="19.3" fill="url(#gc)" opacity="0.33"/>
<ellipse cx="172.1" cy="21.4" rx="2.0" ry="15.8" fill="url(#gc)" opacity="0.31"/>
<ellipse cx="137.9" cy="76.8" rx="2.7" ry="9.8" fill="url(#gc)" opacity="0.30"/>
<ellipse cx="355.0" cy="97.9" rx="2.3" ry="11.4" fill="url(#gc)" opacity="0.27"/>
<ellipse cx="373.6" cy="93.2" rx="2.3" ry="17.6" fill="url(#gc)" opacity="0.33"/>
<ellipse cx="341.9" cy="56.8" rx="2.0" ry="17.6" fill="url(#gc)" opacity="0.31"/>
<ellipse cx="112.0" cy="80.4" rx="2.0" ry="16.7" fill="url(#gc)" opacity="0.47"/>
<ellipse cx="131.5" cy="65.0" rx="2.6" ry="13.7" fill="url(#gc)"/>
<ellipse cx="149.6" cy="52.0" rx="2.1" ry="13.7" fill="url(#gc)"/>
<ellipse cx="166.0" cy="60.0" rx="3.2" ry="15.8" fill="url(#gc)"/>
<ellipse cx="171.0" cy="65.0" rx="2.6" ry="13.7" fill="url(#gc)"/>
<ellipse cx="89.4" cy="74.0" rx="2.6" ry="13.7" fill="url(#gc)"/>
<ellipse cx="69.0" cy="73.0" rx="2.6" ry="12.6" fill="url(#gc)"/>
<ellipse cx="49.0" cy="104.0" rx="2.8" ry="11.6" fill="url(#gc)"/>
<ellipse cx="34.5" cy="117.0" rx="3.5" ry="10.4" fill="url(#gc)"/>
<ellipse cx="87.0" cy="124.0" rx="4.3" ry="15.0" fill="url(#gc)"/>
<ellipse cx="93.0" cy="124.0" rx="3.5" ry="13.9" fill="url(#gc)"/>
<ellipse cx="131.0" cy="117.0" rx="2.6" ry="13.7" fill="url(#gc)"/>
<ellipse cx="138.0" cy="117.0" rx="2.6" ry="13.7" fill="url(#gc)"/>
<ellipse cx="161.0" cy="123.0" rx="2.6" ry="13.7" fill="url(#gc)"/>
<ellipse cx="177.5" cy="117.0" rx="2.6" ry="13.7" fill="url(#gc)"/>
<ellipse cx="205.0" cy="64.0" rx="3.2" ry="12.6" fill="url(#gc)"/>
<ellipse cx="241.0" cy="67.0" rx="2.6" ry="11.6" fill="url(#gc)"/>
<ellipse cx="244.0" cy="69.0" rx="2.6" ry="11.6" fill="url(#gc)"/>
<ellipse cx="277.0" cy="73.0" rx="2.6" ry="11.6" fill="url(#gc)"/>
<ellipse cx="282.0" cy="76.0" rx="2.6" ry="11.6" fill="url(#gc)"/>
<ellipse cx="311.6" cy="74.0" rx="2.6" ry="13.7" fill="url(#gc)"/>
<ellipse cx="351.0" cy="46.0" rx="2.1" ry="12.6" fill="url(#gc)"/>
<ellipse cx="343.0" cy="82.0" rx="2.6" ry="11.6" fill="url(#gc)"/>
<ellipse cx="372.0" cy="88.0" rx="2.1" ry="10.5" fill="url(#gc)"/>
<ellipse cx="193.0" cy="119.0" rx="3.2" ry="15.8" fill="url(#gc)"/>
<ellipse cx="207.0" cy="117.0" rx="2.6" ry="12.6" fill="url(#gc)"/>
<ellipse cx="220.0" cy="121.0" rx="2.6" ry="14.7" fill="url(#gc)"/>
<ellipse cx="235.0" cy="125.0" rx="2.6" ry="12.6" fill="url(#gc)"/>
<ellipse cx="251.0" cy="129.0" rx="2.6" ry="10.5" fill="url(#gc)"/>
<ellipse cx="263.0" cy="131.0" rx="2.1" ry="8.4" fill="url(#gc)"/>
<ellipse cx="551.0" cy="104.0" rx="2.1" ry="10.5" fill="url(#gc)"/>
<ellipse cx="33.0" cy="201.0" rx="4.3" ry="9.2" fill="url(#gc)"/>
<ellipse cx="44.0" cy="218.0" rx="3.5" ry="6.9" fill="url(#gc)"/>
<ellipse cx="43.0" cy="154.0" rx="5.7" ry="13.9" fill="url(#gc)"/>
<ellipse cx="38.0" cy="149.0" rx="4.3" ry="11.6" fill="url(#gc)"/>
<ellipse cx="67.0" cy="181.0" rx="4.3" ry="10.4" fill="url(#gc)"/>
<ellipse cx="46.0" cy="254.0" rx="4.3" ry="6.9" fill="url(#gc)"/>
<ellipse cx="126.6" cy="226.0" rx="2.6" ry="7.4" fill="url(#gc)"/>
<ellipse cx="144.6" cy="199.0" rx="2.6" ry="12.6" fill="url(#gc)"/>
<ellipse cx="162.7" cy="174.0" rx="2.6" ry="10.5" fill="url(#gc)"/>
<ellipse cx="179.0" cy="212.0" rx="2.1" ry="5.2" fill="url(#gc)"/>
<ellipse cx="154.5" cy="135.0" rx="2.6" ry="7.4" fill="url(#gc)"/>
<ellipse cx="85.0" cy="134.0" rx="4.3" ry="6.9" fill="url(#gc)"/>
<ellipse cx="95.0" cy="139.0" rx="3.5" ry="6.9" fill="url(#gc)"/>
<ellipse cx="117.0" cy="262.0" rx="2.6" ry="7.4" fill="url(#gc)"/>
<ellipse cx="138.0" cy="264.0" rx="2.1" ry="6.3" fill="url(#gc)"/>
<ellipse cx="330.0" cy="145.0" rx="2.1" ry="10.5" fill="url(#gc)"/>
<ellipse cx="362.6" cy="149.0" rx="2.1" ry="10.5" fill="url(#gc)"/>
<ellipse cx="221.0" cy="177.0" rx="2.6" ry="11.6" fill="url(#gc)"/>
<ellipse cx="196.6" cy="195.0" rx="2.1" ry="7.4" fill="url(#gc)"/>
<ellipse cx="237.7" cy="189.0" rx="2.1" ry="7.4" fill="url(#gc)"/>
<ellipse cx="198.0" cy="136.0" rx="2.1" ry="6.3" fill="url(#gc)"/>
<ellipse cx="233.0" cy="133.0" rx="2.1" ry="5.2" fill="url(#gc)"/>
<ellipse cx="267.0" cy="133.0" rx="2.1" ry="5.2" fill="url(#gc)"/>
<ellipse cx="200.0" cy="261.0" rx="2.1" ry="8.4" fill="url(#gc)"/>
<ellipse cx="210.0" cy="261.0" rx="2.1" ry="8.4" fill="url(#gc)"/>
<ellipse cx="220.0" cy="262.0" rx="2.1" ry="8.4" fill="url(#gc)"/>
<ellipse cx="253.0" cy="257.0" rx="2.1" ry="6.3" fill="url(#gc)"/>
<ellipse cx="259.0" cy="259.0" rx="2.1" ry="6.3" fill="url(#gc)"/>
<ellipse cx="395.0" cy="149.0" rx="1.6" ry="8.4" fill="url(#gc)"/>
<ellipse cx="28.0" cy="264.0" rx="4.3" ry="6.9" fill="url(#gc)"/>
<ellipse cx="67.4" cy="279.0" rx="3.5" ry="8.1" fill="url(#gc)"/>
<ellipse cx="95.0" cy="315.0" rx="2.1" ry="5.2" fill="url(#gc)"/>
<ellipse cx="112.0" cy="274.0" rx="2.6" ry="8.4" fill="url(#gc)"/>
<ellipse cx="135.0" cy="275.0" rx="2.6" ry="6.3" fill="url(#gc)"/>
<ellipse cx="158.0" cy="314.0" rx="2.6" ry="6.3" fill="url(#gc)"/>
<ellipse cx="171.0" cy="283.0" rx="2.6" ry="11.6" fill="url(#gc)"/>
<ellipse cx="181.0" cy="297.0" rx="2.1" ry="4.2" fill="url(#gc)"/>
<ellipse cx="343.0" cy="325.0" rx="2.6" ry="4.2" fill="url(#gc)"/>
<ellipse cx="361.0" cy="315.0" rx="2.6" ry="4.2" fill="url(#gc)"/>
<ellipse cx="367.5" cy="311.0" rx="2.6" ry="4.2" fill="url(#gc)"/>
<ellipse cx="336.0" cy="308.0" rx="2.6" ry="4.2" fill="url(#gc)"/>
<ellipse cx="201.5" cy="282.0" rx="2.6" ry="6.3" fill="url(#gc)"/>
<ellipse cx="242.6" cy="275.0" rx="3.2" ry="6.3" fill="url(#gc)"/>
<ellipse cx="270.5" cy="275.0" rx="3.2" ry="5.2" fill="url(#gc)"/>
<ellipse cx="285.0" cy="282.0" rx="2.6" ry="5.2" fill="url(#gc)"/>
<ellipse cx="270.5" cy="302.0" rx="2.6" ry="5.2" fill="url(#gc)"/>
<ellipse cx="251.0" cy="274.0" rx="2.1" ry="6.3" fill="url(#gc)"/>
<ellipse cx="390.0" cy="329.0" rx="2.1" ry="4.2" fill="url(#gc)"/>
<ellipse cx="396.0" cy="322.0" rx="2.1" ry="4.2" fill="url(#gc)"/>
<ellipse cx="429.0" cy="327.0" rx="2.6" ry="4.2" fill="url(#gc)"/>
<ellipse cx="452.0" cy="341.0" rx="1.6" ry="4.2" fill="url(#gc)"/>
<ellipse cx="511.5" cy="339.0" rx="1.6" ry="4.2" fill="url(#gc)"/>
<ellipse cx="534.5" cy="329.0" rx="1.6" ry="3.2" fill="url(#gc)"/>
<ellipse cx="86.8" cy="122.9" rx="3.5" ry="10.4" fill="url(#gc)"/>
<ellipse cx="114.7" cy="138.8" rx="2.6" ry="8.4" fill="url(#gc)"/>
<ellipse cx="130.7" cy="110.9" rx="2.6" ry="9.5" fill="url(#gc)"/>
<ellipse cx="136.7" cy="118.9" rx="2.6" ry="9.5" fill="url(#gc)"/>
<ellipse cx="158.6" cy="134.8" rx="2.6" ry="8.4" fill="url(#gc)"/>
<ellipse cx="174.6" cy="110.9" rx="2.6" ry="9.5" fill="url(#gc)"/>
<ellipse cx="198.5" cy="130.8" rx="2.6" ry="8.4" fill="url(#gc)"/>
<ellipse cx="210.4" cy="106.9" rx="2.6" ry="9.5" fill="url(#gc)"/>
<ellipse cx="230.4" cy="114.9" rx="2.6" ry="9.5" fill="url(#gc)"/>
<ellipse cx="242.3" cy="130.8" rx="2.6" ry="8.4" fill="url(#gc)"/>
<ellipse cx="266.3" cy="122.9" rx="2.6" ry="8.4" fill="url(#gc)"/>
<ellipse cx="286.2" cy="134.8" rx="2.6" ry="8.4" fill="url(#gc)"/>
<ellipse cx="47.0" cy="158.7" rx="4.3" ry="10.4" fill="url(#gc)"/>
<ellipse cx="90.8" cy="166.7" rx="3.5" ry="9.2" fill="url(#gc)"/>
<ellipse cx="110.8" cy="174.7" rx="2.6" ry="8.4" fill="url(#gc)"/>
<ellipse cx="150.6" cy="174.7" rx="2.6" ry="8.4" fill="url(#gc)"/>
<ellipse cx="162.6" cy="174.7" rx="2.6" ry="8.4" fill="url(#gc)"/>
<ellipse cx="182.5" cy="182.7" rx="2.6" ry="8.4" fill="url(#gc)"/>
<ellipse cx="198.5" cy="170.7" rx="2.6" ry="8.4" fill="url(#gc)"/>
<ellipse cx="234.4" cy="186.7" rx="2.6" ry="8.4" fill="url(#gc)"/>
<ellipse cx="178.5" cy="210.6" rx="2.1" ry="6.3" fill="url(#gc)"/>
<ellipse cx="154.6" cy="150.8" rx="2.6" ry="8.4" fill="url(#gc)"/>
<ellipse cx="86.8" cy="198.6" rx="3.5" ry="8.1" fill="url(#gc)"/>
<ellipse cx="126.7" cy="218.6" rx="2.1" ry="6.3" fill="url(#gc)"/>
<ellipse cx="43.0" cy="222.5" rx="3.5" ry="6.9" fill="url(#gc)"/>
<ellipse cx="67.0" cy="206.6" rx="3.5" ry="8.1" fill="url(#gc)"/>
<ellipse cx="194.5" cy="194.6" rx="2.6" ry="7.4" fill="url(#gc)"/>
<ellipse cx="218.4" cy="182.7" rx="2.6" ry="8.4" fill="url(#gc)"/>
<ellipse cx="305.0" cy="119.0" rx="2.6" ry="8.4" fill="url(#gc)"/>
<ellipse cx="320.0" cy="127.0" rx="2.6" ry="8.4" fill="url(#gc)"/>
<ellipse cx="340.0" cy="134.0" rx="2.1" ry="8.4" fill="url(#gc)"/>
<ellipse cx="380.0" cy="139.0" rx="2.1" ry="8.4" fill="url(#gc)"/>
<ellipse cx="405.0" cy="149.0" rx="2.1" ry="7.4" fill="url(#gc)"/>
<ellipse cx="435.0" cy="159.0" rx="2.1" ry="7.4" fill="url(#gc)"/>
<ellipse cx="42.0" cy="157.0" rx="4.3" ry="8.1" fill="url(#gc)"/>
<ellipse cx="40.0" cy="169.0" rx="3.5" ry="10.4" fill="url(#gc)"/>
<ellipse cx="50.0" cy="171.0" rx="3.5" ry="10.4" fill="url(#gc)"/>
<ellipse cx="56.0" cy="179.0" rx="3.5" ry="9.2" fill="url(#gc)"/>
<ellipse cx="86.5" cy="126.0" rx="3.5" ry="10.4" fill="url(#gc)"/>
<ellipse cx="105.0" cy="171.0" rx="2.6" ry="12.6" fill="url(#gc)"/>
<ellipse cx="42.0" cy="225.0" rx="2.8" ry="4.6" fill="url(#gc)"/>
<ellipse cx="44.0" cy="253.0" rx="2.8" ry="4.6" fill="url(#gc)"/>
<ellipse cx="23.0" cy="246.0" rx="2.8" ry="5.8" fill="url(#gc)"/>
<ellipse cx="35.0" cy="176.0" rx="3.5" ry="6.9" fill="url(#gc)"/>
<ellipse cx="53.7" cy="136.0" rx="3.5" ry="8.1" fill="url(#gc)"/>
<ellipse cx="77.0" cy="126.6" rx="3.5" ry="8.1" fill="url(#gc)"/>
<ellipse cx="59.0" cy="159.0" rx="3.5" ry="10.4" fill="url(#gc)"/>
<ellipse cx="41.8" cy="159.0" rx="3.5" ry="10.4" fill="url(#gc)"/>
<ellipse cx="44.0" cy="195.0" rx="3.5" ry="8.1" fill="url(#gc)"/>
<ellipse cx="49.0" cy="237.0" rx="3.5" ry="5.8" fill="url(#gc)"/>
<ellipse cx="12.0" cy="277.0" rx="3.5" ry="5.8" fill="url(#gc)"/>
<ellipse cx="125.0" cy="59.0" rx="3.7" ry="12.6" fill="url(#gg)"/>
<ellipse cx="84.0" cy="71.0" rx="4.2" ry="17.9" fill="url(#gg)"/>
<ellipse cx="107.0" cy="125.0" rx="3.7" ry="12.6" fill="url(#gg)"/>
<ellipse cx="149.6" cy="122.0" rx="3.2" ry="15.8" fill="url(#gg)"/>
<ellipse cx="501.6" cy="101.0" rx="2.1" ry="13.7" fill="url(#gg)"/>
<ellipse cx="527.0" cy="102.0" rx="2.1" ry="12.6" fill="url(#gg)"/>
<ellipse cx="19.7" cy="218.0" rx="5.7" ry="11.6" fill="url(#gg)"/>
<ellipse cx="108.5" cy="137.0" rx="3.2" ry="9.5" fill="url(#gg)"/>
<ellipse cx="116.7" cy="183.0" rx="3.2" ry="8.4" fill="url(#gg)"/>
<ellipse cx="139.7" cy="196.0" rx="2.6" ry="9.5" fill="url(#gg)"/>
<ellipse cx="107.0" cy="261.0" rx="3.2" ry="7.4" fill="url(#gg)"/>
<ellipse cx="130.0" cy="261.0" rx="2.6" ry="7.4" fill="url(#gg)"/>
<ellipse cx="294.5" cy="147.0" rx="2.1" ry="11.6" fill="url(#gg)"/>
<ellipse cx="105.0" cy="267.0" rx="3.2" ry="9.5" fill="url(#gg)"/>
<ellipse cx="118.0" cy="281.0" rx="2.6" ry="8.4" fill="url(#gg)"/>
<ellipse cx="128.0" cy="272.0" rx="3.2" ry="8.4" fill="url(#gg)"/>
<ellipse cx="154.5" cy="282.0" rx="3.2" ry="12.6" fill="url(#gg)"/>
<ellipse cx="354.0" cy="338.0" rx="2.1" ry="5.2" fill="url(#gg)"/>
<ellipse cx="216.0" cy="310.0" rx="2.1" ry="5.2" fill="url(#gg)"/>
<ellipse cx="394.8" cy="333.0" rx="2.1" ry="5.2" fill="url(#gg)"/>
<ellipse cx="434.0" cy="347.0" rx="2.1" ry="5.2" fill="url(#gg)"/>
<ellipse cx="465.5" cy="342.0" rx="2.1" ry="5.2" fill="url(#gg)"/>
<ellipse cx="477.0" cy="345.0" rx="2.1" ry="5.2" fill="url(#gg)"/>
<ellipse cx="505.0" cy="337.0" rx="2.1" ry="5.2" fill="url(#gg)"/>
<ellipse cx="150.6" cy="118.9" rx="3.2" ry="10.5" fill="url(#gg)"/>
<ellipse cx="190.5" cy="118.9" rx="3.2" ry="10.5" fill="url(#gg)"/>
<ellipse cx="138.7" cy="194.6" rx="2.6" ry="8.4" fill="url(#gg)"/>
<ellipse cx="35.0" cy="198.6" rx="4.3" ry="9.2" fill="url(#gg)"/>
<ellipse cx="28.0" cy="223.0" rx="4.3" ry="8.1" fill="url(#gg)"/>
<ellipse cx="7.0" cy="240.0" rx="4.3" ry="11.6" fill="url(#gg)"/>
<ellipse cx="34.0" cy="289.0" rx="2.6" ry="4.2" fill="url(#gg)"/>
<ellipse cx="126.0" cy="23.0" rx="2.1" ry="15.8" fill="url(#gy)"/>
<ellipse cx="169.0" cy="33.0" rx="2.1" ry="15.8" fill="url(#gy)"/>
<ellipse cx="203.0" cy="34.0" rx="2.1" ry="19.9" fill="url(#gy)"/>
<ellipse cx="272.0" cy="41.0" rx="2.1" ry="16.8" fill="url(#gy)"/>
<ellipse cx="325.0" cy="45.0" rx="2.1" ry="16.8" fill="url(#gy)"/>
<ellipse cx="476.0" cy="99.0" rx="2.1" ry="15.8" fill="url(#gy)"/>
<ellipse cx="28.0" cy="132.0" rx="4.3" ry="5.8" fill="url(#gy)"/>
<ellipse cx="29.6" cy="229.0" rx="4.3" ry="6.9" fill="url(#gy)"/>
<ellipse cx="218.0" cy="143.0" rx="2.1" ry="12.6" fill="url(#gy)"/>
<ellipse cx="257.0" cy="143.0" rx="2.1" ry="12.6" fill="url(#gy)"/>
<ellipse cx="15.0" cy="271.0" rx="4.3" ry="9.2" fill="url(#gy)"/>
<ellipse cx="141.0" cy="293.0" rx="3.2" ry="8.4" fill="url(#gy)"/>
<ellipse cx="146.0" cy="305.0" rx="2.6" ry="5.2" fill="url(#gy)"/>
<ellipse cx="267.0" cy="336.0" rx="2.6" ry="5.2" fill="url(#gy)"/>
<ellipse cx="292.0" cy="329.0" rx="2.6" ry="5.2" fill="url(#gy)"/>
<ellipse cx="297.0" cy="331.0" rx="2.6" ry="5.2" fill="url(#gy)"/>
<ellipse cx="305.0" cy="315.0" rx="2.6" ry="5.2" fill="url(#gy)"/>
<ellipse cx="305.0" cy="331.0" rx="2.6" ry="5.2" fill="url(#gy)"/>
<ellipse cx="333.0" cy="322.0" rx="2.6" ry="4.2" fill="url(#gy)"/>
<ellipse cx="196.6" cy="285.0" rx="2.6" ry="6.3" fill="url(#gy)"/>
<ellipse cx="206.4" cy="288.0" rx="2.6" ry="6.3" fill="url(#gy)"/>
<ellipse cx="218.0" cy="292.0" rx="3.2" ry="6.3" fill="url(#gy)"/>
<ellipse cx="232.7" cy="279.0" rx="3.2" ry="6.3" fill="url(#gy)"/>
<ellipse cx="255.7" cy="285.0" rx="3.2" ry="6.3" fill="url(#gy)"/>
<ellipse cx="195.0" cy="298.0" rx="2.1" ry="6.3" fill="url(#gy)"/>
<ellipse cx="200.0" cy="303.0" rx="2.1" ry="5.2" fill="url(#gy)"/>
<ellipse cx="278.8" cy="307.0" rx="2.6" ry="6.3" fill="url(#gy)"/>
<ellipse cx="32.6" cy="204.0" rx="4.3" ry="8.1" fill="url(#gy)"/>
<ellipse cx="70.0" cy="159.0" rx="4.3" ry="10.4" fill="url(#gy)"/>
<ellipse cx="7.0" cy="225.0" rx="4.3" ry="6.9" fill="url(#gy)"/>
<ellipse cx="1.0" cy="189.0" rx="4.3" ry="11.6" fill="url(#gy)"/>
<ellipse cx="17.0" cy="210.0" rx="4.3" ry="8.1" fill="url(#gy)"/>
<ellipse cx="19.6" cy="247.0" rx="4.3" ry="10.4" fill="url(#gy)"/>
<ellipse cx="34.0" cy="203.0" rx="4.3" ry="5.8" fill="url(#gy)"/>
<ellipse cx="49.0" cy="163.0" rx="4.3" ry="10.4" fill="url(#gy)"/>
<ellipse cx="29.5" cy="262.0" rx="4.3" ry="5.8" fill="url(#gy)"/>
<ellipse cx="2.0" cy="301.6" rx="2.6" ry="5.2" fill="url(#gy)"/>
<ellipse cx="104.5" cy="64.0" rx="2.8" ry="35.7" fill="url(#gr)"/>
<ellipse cx="144.6" cy="63.0" rx="2.8" ry="32.6" fill="url(#gr)"/>
<ellipse cx="184.0" cy="64.0" rx="2.8" ry="31.5" fill="url(#gr)"/>
<ellipse cx="62.5" cy="87.0" rx="3.8" ry="34.7" fill="url(#gr)"/>
<ellipse cx="46.0" cy="104.0" rx="4.9" ry="16.2" fill="url(#gr)"/>
<ellipse cx="28.0" cy="119.0" rx="4.9" ry="17.3" fill="url(#gr)"/>
<ellipse cx="224.5" cy="70.0" rx="2.5" ry="29.4" fill="url(#gr)"/>
<ellipse cx="261.7" cy="74.0" rx="2.5" ry="27.3" fill="url(#gr)"/>
<ellipse cx="289.6" cy="32.0" rx="1.8" ry="21.0" fill="url(#gr)"/>
<ellipse cx="297.0" cy="81.0" rx="2.1" ry="24.2" fill="url(#gr)"/>
<ellipse cx="330.4" cy="86.0" rx="2.1" ry="22.1" fill="url(#gr)"/>
<ellipse cx="361.6" cy="86.0" rx="2.1" ry="22.1" fill="url(#gr)"/>
<ellipse cx="393.0" cy="88.0" rx="1.8" ry="24.2" fill="url(#gr)"/>
<ellipse cx="422.0" cy="92.0" rx="1.8" ry="23.1" fill="url(#gr)"/>
<ellipse cx="449.7" cy="97.0" rx="1.8" ry="21.0" fill="url(#gr)"/>
<ellipse cx="24.6" cy="154.0" rx="4.9" ry="19.6" fill="url(#gr)"/>
<ellipse cx="11.5" cy="179.0" rx="6.1" ry="19.6" fill="url(#gr)"/>
<ellipse cx="3.0" cy="199.0" rx="4.9" ry="13.9" fill="url(#gr)"/>
<ellipse cx="26.0" cy="201.0" rx="6.1" ry="15.0" fill="url(#gr)"/>
<ellipse cx="13.0" cy="247.0" rx="4.9" ry="16.2" fill="url(#gr)"/>
<ellipse cx="5.0" cy="259.0" rx="4.9" ry="10.4" fill="url(#gr)"/>
<ellipse cx="47.7" cy="193.0" rx="4.9" ry="17.3" fill="url(#gr)"/>
<ellipse cx="64.0" cy="150.0" rx="4.9" ry="17.3" fill="url(#gr)"/>
<ellipse cx="70.7" cy="163.0" rx="3.6" ry="10.4" fill="url(#gr)"/>
<ellipse cx="88.8" cy="158.0" rx="3.6" ry="16.2" fill="url(#gr)"/>
<ellipse cx="88.8" cy="203.0" rx="3.6" ry="10.4" fill="url(#gr)"/>
<ellipse cx="98.6" cy="208.0" rx="3.6" ry="11.6" fill="url(#gr)"/>
<ellipse cx="70.7" cy="229.0" rx="3.6" ry="9.2" fill="url(#gr)"/>
<ellipse cx="133.0" cy="149.0" rx="2.7" ry="13.7" fill="url(#gr)"/>
<ellipse cx="174.0" cy="145.0" rx="2.7" ry="13.7" fill="url(#gr)"/>
<ellipse cx="15.0" cy="334.0" rx="4.5" ry="11.6" fill="url(#gr)"/>
<ellipse cx="28.0" cy="329.0" rx="3.6" ry="9.5" fill="url(#gr)"/>
<ellipse cx="3.0" cy="307.0" rx="2.7" ry="6.3" fill="url(#gr)"/>
<ellipse cx="7.0" cy="267.0" rx="4.9" ry="11.6" fill="url(#gr)"/>
<ellipse cx="34.5" cy="311.0" rx="2.7" ry="7.4" fill="url(#gr)"/>
<ellipse cx="47.7" cy="304.0" rx="3.6" ry="9.5" fill="url(#gr)"/>
<ellipse cx="52.6" cy="301.0" rx="3.6" ry="10.5" fill="url(#gr)"/>
<ellipse cx="60.8" cy="305.0" rx="2.7" ry="8.4" fill="url(#gr)"/>
<ellipse cx="65.7" cy="299.0" rx="2.7" ry="9.5" fill="url(#gr)"/>
<ellipse cx="74.0" cy="285.0" rx="3.6" ry="8.1" fill="url(#gr)"/>
<ellipse cx="82.0" cy="303.0" rx="2.7" ry="9.5" fill="url(#gr)"/>
<ellipse cx="87.0" cy="283.0" rx="4.9" ry="10.4" fill="url(#gr)"/>
<ellipse cx="95.0" cy="285.0" rx="3.6" ry="9.2" fill="url(#gr)"/>
<ellipse cx="102.0" cy="285.0" rx="2.7" ry="8.4" fill="url(#gr)"/>
<ellipse cx="125.0" cy="287.0" rx="2.7" ry="8.4" fill="url(#gr)"/>
<ellipse cx="162.7" cy="292.0" rx="2.7" ry="7.4" fill="url(#gr)"/>
<ellipse cx="182.5" cy="333.0" rx="2.7" ry="8.4" fill="url(#gr)"/>
<ellipse cx="227.8" cy="326.0" rx="3.1" ry="8.4" fill="url(#gr)"/>
<ellipse cx="238.7" cy="330.0" rx="3.1" ry="8.4" fill="url(#gr)"/>
<ellipse cx="269.0" cy="320.0" rx="3.1" ry="8.4" fill="url(#gr)"/>
<ellipse cx="278.0" cy="322.0" rx="3.6" ry="8.4" fill="url(#gr)"/>
<ellipse cx="288.6" cy="324.0" rx="2.7" ry="6.3" fill="url(#gr)"/>
<ellipse cx="316.6" cy="317.0" rx="2.7" ry="6.3" fill="url(#gr)"/>
<ellipse cx="324.8" cy="319.0" rx="2.7" ry="7.4" fill="url(#gr)"/>
<ellipse cx="16.0" cy="267.0" rx="3.6" ry="5.8" fill="url(#gr)"/>
<ellipse cx="44.0" cy="300.0" rx="2.7" ry="6.3" fill="url(#gr)"/>
<ellipse cx="51.6" cy="303.0" rx="2.7" ry="6.3" fill="url(#gr)"/>
<ellipse cx="64.0" cy="299.0" rx="2.7" ry="7.4" fill="url(#gr)"/>
<ellipse cx="71.0" cy="289.0" rx="2.7" ry="7.4" fill="url(#gr)"/></g>
<rect y="-1" width="565" height="1" fill="#a0b2e8"/><rect y="0" width="565" height="1" fill="#34508f"/><rect y="396.4" width="565" height="1.2" fill="#34508f"/>
<path d="M0,330.6 A151.6,151.6 0 0 1 135,248.4 L565,248.4" fill="none" stroke="#e8ecf4" stroke-width="2"/>
<text x="1057.2" y="26.4" font-family="Liberation Sans" font-size="12.8" fill="#e6ecf8" stroke="#e6ecf8" stroke-width="0.35" textLength="76.8" lengthAdjust="spacingAndGlyphs" transform="translate(-605,0)">Nonaromatics</text>
<text x="1068.6" y="271.6" font-family="Liberation Sans" font-size="12.8" fill="#e6ecf8" stroke="#e6ecf8" stroke-width="0.35" textLength="54.2" lengthAdjust="spacingAndGlyphs" transform="translate(-605,0)">Aromatics</text>
</svg>
<svg width="1176" height="426" viewBox="0 0 1176 426">
<defs>
<marker id="ar" viewBox="0 0 10 10" refX="8" refY="5" markerWidth="6" markerHeight="6" orient="auto"><path d="M0,0 L10,5 L0,10" fill="none" stroke="#000" stroke-width="2"/></marker>
</defs>
<rect x="344.8" y="64.8" width="100.4" height="129.2" rx="0" fill="#c0c0c0" stroke="#4a4a4a" stroke-width="1.2"/>
<rect x="385" y="88.2" width="9.4" height="66.4" rx="0" fill="#c0c0c0" stroke="#555" stroke-width="0.9"/>
<polyline points="295.5,103 295.5,85.9 515,85.9 515,48" fill="none" stroke="#1e1e1e" stroke-width="1.2" stroke-linejoin="miter"/>
<polyline points="389.6,85.9 389.6,157.4" fill="none" stroke="#1e1e1e" stroke-width="1.1" stroke-linejoin="miter"/>
<polygon points="389.6,129.5 387.6,125.9 391.6,125.9" fill="#1e1e1e"/>
<polygon points="425.2,85.9 428.8,83.9 428.8,87.9" fill="#1e1e1e"/>
<polygon points="515,69 513.0,65.4 517.0,65.4" fill="#1e1e1e"/>
<rect x="351.8" y="157.4" width="89.2" height="28.7" rx="0" fill="#fff" stroke="#1e1e1e" stroke-width="1.2"/>
<path d="M287.8,102.8 H303.3 V144.6 H287.8 V129.1 H269.7 V115.6 H287.8 Z" fill="#fff" stroke="#1e1e1e" stroke-width="1.2"/>
<polyline points="241,121.7 269.3,121.7" fill="none" stroke="#1e1e1e" stroke-width="1.4" stroke-linejoin="miter"/>
<polyline points="264.8,119.0 269.3,121.7 264.8,124.4" fill="none" stroke="#1e1e1e" stroke-width="1.3" stroke-linejoin="miter"/>
<polyline points="295.7,144.6 295.7,171.5 351.8,171.5" fill="none" stroke="#1e1e1e" stroke-width="2.0" stroke-linejoin="miter"/>
<polyline points="293.0,165.0 295.7,169.5 298.4,165.0" fill="none" stroke="#1e1e1e" stroke-width="1.6" stroke-linejoin="miter"/>
<polyline points="317.5,168.8 322,171.5 317.5,174.2" fill="none" stroke="#1e1e1e" stroke-width="1.6" stroke-linejoin="miter"/>
<circle cx="478" cy="72.5" r="12.8" fill="none" stroke="#1e1e1e" stroke-width="1.2"/>
<circle cx="491.5" cy="72.5" r="12.8" fill="none" stroke="#1e1e1e" stroke-width="1.2"/>
<polyline points="441,178.5 523.5,178.5" fill="none" stroke="#1e1e1e" stroke-width="2.0" stroke-linejoin="miter"/>
<polyline points="460.2,175.8 464.7,178.5 460.2,181.2" fill="none" stroke="#1e1e1e" stroke-width="1.6" stroke-linejoin="miter"/>
<circle cx="478" cy="164.7" r="13" fill="none" stroke="#1e1e1e" stroke-width="1.9"/>
<circle cx="491.6" cy="164.7" r="13" fill="none" stroke="#1e1e1e" stroke-width="1.9"/>
<rect x="523.5" y="167" width="41.1" height="20.2" rx="0" fill="#fff" stroke="#1e1e1e" stroke-width="1.2"/>
<rect x="507.0" y="5.6" width="16.900000000000055" height="5.0" rx="1.5" fill="#fff" stroke="#1e1e1e" stroke-width="1.2"/>
<path d="M510.7,10.6 V12.7 H508.2 V45 H511 V47.9 H519.5 V45 H522.7 V12.7 H520.2 V10.6" fill="#fff" stroke="#1e1e1e" stroke-width="1.2"/>
<text x="496" y="33.8" font-family="Liberation Serif" font-size="6.6" text-anchor="middle" font-weight="normal" fill="#2a2a2a" stroke="#2a2a2a" stroke-width="0">Inlet</text>
<text x="485.4" y="55.6" font-family="Liberation Serif" font-size="7" text-anchor="middle" font-weight="normal" fill="#2a2a2a" stroke="#2a2a2a" stroke-width="0">0.8 mL/min</text>
<text x="485" y="92.9" font-family="Liberation Serif" font-size="6.9" text-anchor="middle" font-weight="normal" fill="#2a2a2a" stroke="#2a2a2a" stroke-width="0">Column 1</text>
<text x="485" y="100.8" font-family="Liberation Serif" font-size="6.9" text-anchor="middle" font-weight="normal" fill="#2a2a2a" stroke="#2a2a2a" stroke-width="0">(25 m to 30 m)</text>
<text x="236.8" y="131" font-family="Liberation Serif" font-size="7.7" text-anchor="start" font-weight="normal" fill="#2a2a2a" stroke="#2a2a2a" stroke-width="0">Auxiliary</text>
<text x="252" y="139.3" font-family="Liberation Serif" font-size="7.7" text-anchor="middle" font-weight="normal" fill="#2a2a2a" stroke="#2a2a2a" stroke-width="0">gas</text>
<text x="271" y="124.4" font-family="Liberation Serif" font-size="6.9" text-anchor="start" font-weight="normal" fill="#2a2a2a" stroke="#2a2a2a" stroke-width="0">Modulation</text>
<text x="288.7" y="132.8" font-family="Liberation Serif" font-size="6.9" text-anchor="start" font-weight="normal" fill="#2a2a2a" stroke="#2a2a2a" stroke-width="0">valve</text>
<text x="287.8" y="152.9" font-family="Liberation Serif" font-size="6.9" text-anchor="end" font-weight="normal" fill="#2a2a2a" stroke="#2a2a2a" stroke-width="0">Collect</text>
<text x="287.8" y="160.6" font-family="Liberation Serif" font-size="6.9" text-anchor="end" font-weight="normal" fill="#2a2a2a" stroke="#2a2a2a" stroke-width="0">Flow</text>
<text x="287.8" y="168.7" font-family="Liberation Serif" font-size="6.9" text-anchor="end" font-weight="normal" fill="#2a2a2a" stroke="#2a2a2a" stroke-width="0">Direction</text>
<text x="394.4" y="128.7" font-family="Liberation Serif" font-size="8.8" text-anchor="start" font-weight="bold" fill="#2a2a2a" stroke="#2a2a2a" stroke-width="0.25">Collection</text>
<text x="394.4" y="138.4" font-family="Liberation Serif" font-size="8.8" text-anchor="start" font-weight="bold" fill="#2a2a2a" stroke="#2a2a2a" stroke-width="0.25">channel</text>
<text x="396.4" y="175" font-family="Liberation Serif" font-size="8.7" text-anchor="middle" font-weight="normal" fill="#2a2a2a" stroke="#2a2a2a" stroke-width="0.18">Flow Modulator</text>
<text x="486" y="150.3" font-family="Liberation Serif" font-size="8.5" text-anchor="middle" font-weight="normal" fill="#111" stroke="#111" stroke-width="0.18">21 mL/min</text>
<text x="489.5" y="188.4" font-family="Liberation Serif" font-size="6.7" text-anchor="middle" font-weight="normal" fill="#2a2a2a" stroke="#2a2a2a" stroke-width="0">Column 2</text>
<text x="490" y="196" font-family="Liberation Serif" font-size="6.7" text-anchor="middle" font-weight="normal" fill="#2a2a2a" stroke="#2a2a2a" stroke-width="0">(5 m)</text>
<text x="542.2" y="180.4" font-family="Liberation Serif" font-size="8.6" text-anchor="middle" font-weight="normal" fill="#2a2a2a" stroke="#2a2a2a" stroke-width="0.18">Detector</text>
<rect x="344.2" y="268.4" width="100.3" height="129.8" rx="0" fill="#c0c0c0" stroke="#4a4a4a" stroke-width="1.2"/>
<rect x="383.3" y="297.2" width="10.2" height="60.9" rx="0" fill="#c0c0c0" stroke="#555" stroke-width="0.9"/>
<polyline points="388.6,289.1 514.9,289.1 514.9,251.7" fill="none" stroke="#1e1e1e" stroke-width="1.2" stroke-linejoin="miter"/>
<polyline points="295,306.8 295,289.1 388.6,289.1 388.6,360.6" fill="none" stroke="#1e1e1e" stroke-width="2.0" stroke-linejoin="miter"/>
<polyline points="292.3,298.9 295,294.4 297.7,298.9" fill="none" stroke="#1e1e1e" stroke-width="1.6" stroke-linejoin="miter"/>
<polyline points="319.5,286.40000000000003 324,289.1 319.5,291.8" fill="none" stroke="#1e1e1e" stroke-width="1.6" stroke-linejoin="miter"/>
<polygon points="388.6,350 386.6,346.4 390.6,346.4" fill="#1e1e1e"/>
<rect x="351.6" y="360.6" width="88.7" height="29.2" rx="0" fill="#fff" stroke="#1e1e1e" stroke-width="1.2"/>
<path d="M286.7,306.8 H302.7 V348.6 H286.7 V332.4 H268.6 V318.9 H286.7 Z" fill="#fff" stroke="#1e1e1e" stroke-width="1.2"/>
<polyline points="240.2,325.4 268.4,325.4" fill="none" stroke="#1e1e1e" stroke-width="1.4" stroke-linejoin="miter"/>
<polyline points="263.9,322.7 268.4,325.4 263.9,328.09999999999997" fill="none" stroke="#1e1e1e" stroke-width="1.3" stroke-linejoin="miter"/>
<polyline points="295,348.6 295,374.8 351.6,374.8" fill="none" stroke="#1e1e1e" stroke-width="1.2" stroke-linejoin="miter"/>
<circle cx="477.3" cy="276.3" r="12.9" fill="none" stroke="#1e1e1e" stroke-width="1.2"/>
<circle cx="491.2" cy="276.3" r="12.9" fill="none" stroke="#1e1e1e" stroke-width="1.2"/>
<polyline points="440.3,382 522,382" fill="none" stroke="#1e1e1e" stroke-width="2.0" stroke-linejoin="miter"/>
<polyline points="457.5,379.3 462,382 457.5,384.7" fill="none" stroke="#1e1e1e" stroke-width="1.6" stroke-linejoin="miter"/>
<circle cx="478" cy="370" r="13.3" fill="none" stroke="#1e1e1e" stroke-width="1.9"/>
<circle cx="491.7" cy="370" r="13.3" fill="none" stroke="#1e1e1e" stroke-width="1.9"/>
<rect x="522" y="370" width="42" height="20.7" rx="0" fill="#fff" stroke="#1e1e1e" stroke-width="1.2"/>
<rect x="506.2" y="208.9" width="16.9" height="5.199999999999989" rx="1.5" fill="#fff" stroke="#1e1e1e" stroke-width="1.2"/>
<path d="M509.9,214.1 V216 H507.4 V248.2 H510.2 V251.7 H518.9 V248.2 H521.9 V216 H519.4 V214.1" fill="#fff" stroke="#1e1e1e" stroke-width="1.2"/>
<text x="495" y="237.6" font-family="Liberation Serif" font-size="6.6" text-anchor="middle" font-weight="normal" fill="#2a2a2a" stroke="#2a2a2a" stroke-width="0">Inlet</text>
<text x="485.3" y="298.7" font-family="Liberation Serif" font-size="6.9" text-anchor="middle" font-weight="normal" fill="#2a2a2a" stroke="#2a2a2a" stroke-width="0">Column 1</text>
<text x="235.8" y="334.4" font-family="Liberation Serif" font-size="7.7" text-anchor="start" font-weight="normal" fill="#2a2a2a" stroke="#2a2a2a" stroke-width="0">Auxiliary</text>
<text x="250.5" y="344.2" font-family="Liberation Serif" font-size="7.7" text-anchor="middle" font-weight="normal" fill="#2a2a2a" stroke="#2a2a2a" stroke-width="0">gas</text>
<text x="272.9" y="290.5" font-family="Liberation Serif" font-size="6.9" text-anchor="middle" font-weight="normal" fill="#2a2a2a" stroke="#2a2a2a" stroke-width="0">Inject</text>
<text x="273.1" y="298.8" font-family="Liberation Serif" font-size="6.9" text-anchor="middle" font-weight="normal" fill="#2a2a2a" stroke="#2a2a2a" stroke-width="0">Flow</text>
<text x="269" y="307.3" font-family="Liberation Serif" font-size="6.9" text-anchor="middle" font-weight="normal" fill="#2a2a2a" stroke="#2a2a2a" stroke-width="0">Direction</text>
<text x="394.5" y="332.4" font-family="Liberation Serif" font-size="8.8" text-anchor="start" font-weight="bold" fill="#2a2a2a" stroke="#2a2a2a" stroke-width="0.25">Collection</text>
<text x="394.5" y="342.3" font-family="Liberation Serif" font-size="8.8" text-anchor="start" font-weight="bold" fill="#2a2a2a" stroke="#2a2a2a" stroke-width="0.25">channel</text>
<text x="396" y="379.2" font-family="Liberation Serif" font-size="8.7" text-anchor="middle" font-weight="normal" fill="#2a2a2a" stroke="#2a2a2a" stroke-width="0.18">Flow Modulator</text>
<text x="487.8" y="392.5" font-family="Liberation Serif" font-size="6.7" text-anchor="middle" font-weight="normal" fill="#2a2a2a" stroke="#2a2a2a" stroke-width="0">Column 2</text>
<text x="543" y="384" font-family="Liberation Serif" font-size="8.6" text-anchor="middle" font-weight="normal" fill="#2a2a2a" stroke="#2a2a2a" stroke-width="0.18">Detector</text>
<!-- AXIS LABELS -->
<g font-family="Liberation Sans" font-size="8.6" fill="#4a4a4a" text-anchor="middle">
<text x="590.8" y="58.8" textLength="10" lengthAdjust="spacingAndGlyphs">3.5</text>
<text x="590.8" y="172.7" textLength="10" lengthAdjust="spacingAndGlyphs">2.5</text>
<text x="590.8" y="286.6" textLength="10" lengthAdjust="spacingAndGlyphs">1.5</text>
<text x="590.8" y="400.4" textLength="10" lengthAdjust="spacingAndGlyphs">0.5</text>
<text x="604" y="411.8" textLength="12" lengthAdjust="spacingAndGlyphs">320</text>
<text x="786.6" y="411.8" textLength="15" lengthAdjust="spacingAndGlyphs">1320</text>
<text x="969.2" y="411.8" textLength="15.5" lengthAdjust="spacingAndGlyphs">2320</text>
<text x="1152.7" y="411.8" textLength="15.5" lengthAdjust="spacingAndGlyphs">3320</text>
</g>
</svg>
</body></html>
